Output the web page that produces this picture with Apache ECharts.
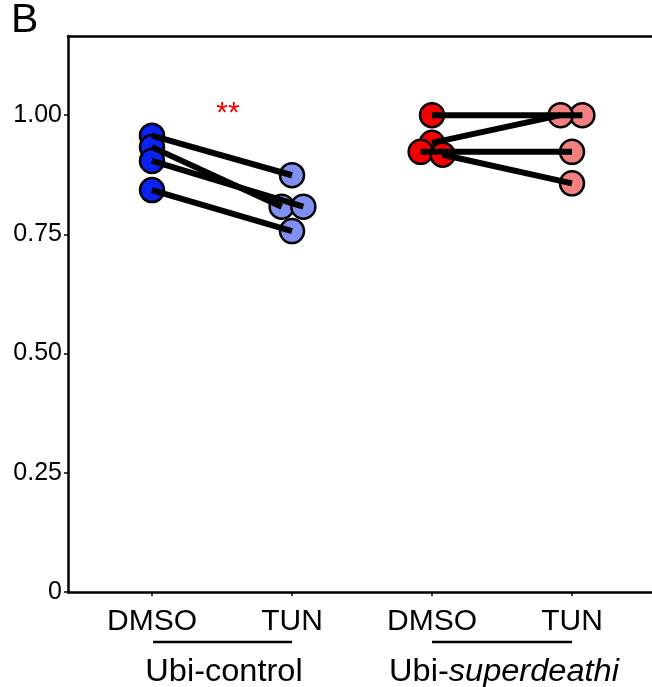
<!DOCTYPE html>
<html>
<head>
<meta charset="utf-8">
<script src="https://cdn.jsdelivr.net/npm/echarts@6/dist/echarts.min.js"></script>
<style>
html,body{margin:0;padding:0;background:#fff;}
#chart{width:652px;height:687px;}
</style>
</head>
<body>
<div id="chart"></div>
<script>
// Category tick positions and labels
var tickPositions = [1, 2, 3, 4];
var tickLabels = ['DMSO', 'TUN', 'DMSO', 'TUN'];
var yTicks = [0, 0.25, 0.5, 0.75, 1.0];

// Ubi-control (paired: DMSO -> TUN)
var ctrlDmso  = [0.957, 0.933, 0.904, 0.843];
var ctrlDmsoX = [1, 1, 1, 1];
var ctrlTun   = [0.874, 0.808, 0.808, 0.757];
var ctrlTunX  = [2.0, 1.926, 2.081, 2.0];

// Ubi-superdeathi (paired: DMSO -> TUN)
var sdDmso  = [1.0, 0.942, 0.923, 0.917];
var sdDmsoX = [3.0, 3.0, 2.919, 3.076];
var sdTun   = [1.0, 1.0, 0.923, 0.857];
var sdTunX  = [4.074, 3.919, 4.0, 4.0];

var colCtrlDmso = '#0a22f2';
var colCtrlTun = '#7f8ff2';
var colSdDmso = '#f50000';
var colSdTun = '#f28080';

function pts(xs, ys){ return ys.map(function(v,i){ return [xs[i], v]; }); }

var series = [];
function addScatter(xs, ys, color){
  series.push({
    type: 'scatter', data: pts(xs, ys), symbol: 'circle', symbolSize: 24, z: 2,
    itemStyle: { color: color, borderColor: '#000', borderWidth: 2.5, opacity: 1 },
    emphasis: { disabled: true }, silent: true
  });
}
function addPairs(xa, ya, xb, yb){
  ya.forEach(function(v, i){
    series.push({
      type: 'line', data: [[xa[i], ya[i]], [xb[i], yb[i]]], symbol: 'none', z: 5,
      lineStyle: { color: '#000', width: 6, cap: 'butt' }, silent: true, animation: false
    });
  });
}
addScatter(ctrlDmsoX, ctrlDmso, colCtrlDmso);
addScatter(ctrlTunX, ctrlTun, colCtrlTun);
addScatter(sdDmsoX, sdDmso, colSdDmso);
addScatter(sdTunX, sdTun, colSdTun);
addPairs(ctrlDmsoX, ctrlDmso, ctrlTunX, ctrlTun);
addPairs(sdDmsoX, sdDmso, sdTunX, sdTun);

var chart = echarts.init(document.getElementById('chart'), null, {renderer: 'canvas'});
var xMin = 0.4, xMax = 0.4 + 584 / 140;
var option = {
  animation: false,
  backgroundColor: '#fff',
  grid: { left: 68, right: 0, top: 36, bottom: 95 },
  xAxis: [{
    type: 'value', min: xMin, max: xMax, position: 'bottom',
    axisLine: { show: true, onZero: false, lineStyle: { color: '#000', width: 2.5 } },
    axisTick: { show: true, length: 4, lineStyle: { color: '#000', width: 1.5 }, customValues: tickPositions },
    axisLabel: {
      customValues: tickPositions,
      formatter: function(v){ var i = tickPositions.indexOf(v); return i >= 0 ? tickLabels[i] : ''; },
      color: '#000', fontFamily: 'Liberation Sans, Arial', fontSize: 30, margin: 15
    },
    splitLine: { show: false }
  }, {
    type: 'value', min: xMin, max: xMax, position: 'top',
    axisLine: { show: true, onZero: false, lineStyle: { color: '#000', width: 2.5 } },
    axisTick: { show: false }, axisLabel: { show: false }, splitLine: { show: false }
  }],
  yAxis: {
    type: 'value', min: 0, max: 1.166, interval: 0.25,
    axisLine: { show: true, onZero: false, lineStyle: { color: '#000', width: 2.5 } },
    axisTick: { show: true, length: 4, lineStyle: { color: '#000', width: 1.5 }, customValues: yTicks },
    axisLabel: {
      customValues: yTicks,
      formatter: function(v){ if (v > 1.001) return ''; return v === 0 ? '0' : v.toFixed(2); },
      color: '#000', fontFamily: 'Liberation Sans, Arial', fontSize: 25, margin: 6
    },
    splitLine: { show: false }
  },
  series: series,
  graphic: [
    { type: 'text', left: 11, top: 0, style: { text: 'B', font: '41px "Liberation Sans", Arial', fill: '#000' } },
    { type: 'text', x: 228, y: 99, style: { text: '**', font: '30px "Liberation Sans", Arial', fill: '#f00', textAlign: 'center' } },
    { type: 'line', shape: { x1: 153, y1: 642, x2: 292, y2: 642 }, style: { stroke: '#000', lineWidth: 2.5 } },
    { type: 'line', shape: { x1: 432, y1: 642, x2: 572, y2: 642 }, style: { stroke: '#000', lineWidth: 2.5 } },
    { type: 'text', x: 224, y: 672, scaleX: 1.05, style: { text: 'Ubi-control', font: '31px "Liberation Sans", Arial', fill: '#000', textAlign: 'center', textVerticalAlign: 'middle' } },
    { type: 'text', x: 504, y: 672, scaleX: 1.05, style: {
        text: '{n|Ubi-}{i|superdeathi}', textAlign: 'center', textVerticalAlign: 'middle',
        rich: {
          n: { font: '31px "Liberation Sans", Arial', fill: '#000' },
          i: { font: 'italic 31px "Liberation Sans", Arial', fill: '#000' }
        }
    } }
  ]
};
chart.setOption(option);
</script>
</body>
</html>
